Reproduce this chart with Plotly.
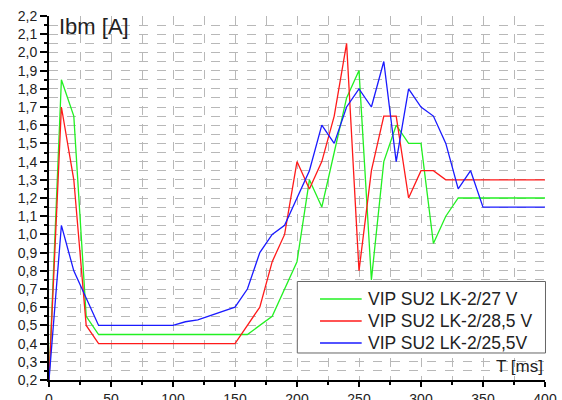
import plotly.graph_objects as go

t_green = [0, 10, 20, 30, 40, 160, 180, 200, 210, 220, 230, 240, 250, 260, 270, 280, 290, 300, 310, 320, 330, 400]
i_green = [0.2, 1.85, 1.65, 0.55, 0.45, 0.45, 0.55, 0.85, 1.3, 1.15, 1.45, 1.75, 1.9, 0.75, 1.4, 1.6, 1.5, 1.5, 0.95, 1.1, 1.2, 1.2]

t_red = [0, 10, 20, 30, 40, 150, 170, 180, 190, 200, 210, 220, 230, 240, 250, 260, 270, 280, 290, 300, 310, 320, 400]
i_red = [0.2, 1.7, 1.3, 0.5, 0.4, 0.4, 0.6, 0.85, 1.0, 1.4, 1.25, 1.4, 1.65, 2.05, 0.8, 1.35, 1.65, 1.65, 1.2, 1.35, 1.35, 1.3, 1.3]

t_blue = [0, 10, 20, 40, 100, 110, 120, 150, 160, 170, 180, 190, 200, 210, 220, 230, 240, 250, 260, 270, 280, 290, 300, 310, 320, 330, 340, 350, 400]
i_blue = [0.2, 1.05, 0.8, 0.5, 0.5, 0.52, 0.53, 0.6, 0.7, 0.9, 1.0, 1.05, 1.2, 1.35, 1.6, 1.5, 1.7, 1.8, 1.7, 1.95, 1.4, 1.8, 1.7, 1.65, 1.5, 1.25, 1.35, 1.15, 1.15]

names = ["VIP SU2 LK-2/27 V", "VIP SU2 LK-2/28,5 V", "VIP SU2 LK-2/25,5V"]
colors = ["#22f022", "#ff1a1a", "#1a1aff"]

font = "Arial, Liberation Sans, sans-serif"
fig = go.Figure()
for x, y, n, c in [(t_green, i_green, names[0], colors[0]),
                   (t_red, i_red, names[1], colors[1]),
                   (t_blue, i_blue, names[2], colors[2])]:
    fig.add_trace(go.Scatter(x=x, y=y, mode="lines", name=n, showlegend=False,
                             line=dict(color=c, width=1.3)))

# legend drawn in paper coordinates
shapes = [dict(type="rect", xref="paper", yref="paper", x0=0.5006, x1=1.001,
               y0=0.0742, y1=0.2706, fillcolor="white",
               line=dict(color="#666", width=1), layer="above")]
annotations = []
row_y = [0.2225, 0.1621, 0.1016]
for n, c, ry in zip(names, colors, row_y):
    shapes.append(dict(type="line", xref="paper", yref="paper", x0=0.5464, x1=0.6304,
                       y0=ry, y1=ry, line=dict(color=c, width=1.3), layer="above"))
    annotations.append(dict(text=n, xref="paper", yref="paper", x=0.6391, y=ry,
                            xanchor="left", yanchor="middle", showarrow=False,
                            font=dict(size=17.5, color="#222")))

annotations += [
    dict(text="Ibm [A]", xref="paper", yref="paper", x=0.016, y=0.97,
         xanchor="left", yanchor="middle", showarrow=False,
         font=dict(size=22, color="#222")),
    dict(text="T [ms]", xref="paper", yref="paper", x=1.0, y=0.0365,
         xanchor="right", yanchor="middle", showarrow=False,
         font=dict(size=17, color="#222")),
]

grid = dict(gridcolor="#b8b8b8", griddash="dash", gridwidth=1)
fig.update_layout(
    width=562, height=400,
    margin=dict(l=49, r=17, t=16, b=20),
    paper_bgcolor="white", plot_bgcolor="white",
    separators=", ",
    font=dict(family=font, size=14, color="#222"),
    showlegend=False,
    xaxis=dict(range=[0, 400], dtick=50, tick0=0, showline=True, linecolor="black",
               linewidth=2, ticks="outside", ticklen=5, tickwidth=1.5, tickcolor="black",
               showgrid=True, zeroline=False, automargin=False,
               minor=dict(dtick=25, tick0=0, ticks="outside", ticklen=3, tickcolor="black",
                          showgrid=True, **grid),
               tickfont=dict(size=14), **grid),
    yaxis=dict(range=[0.2, 2.2], dtick=0.1, tick0=0.2, tickformat=".1f", showline=True,
               linecolor="black", linewidth=2, ticks="outside", ticklen=7, tickwidth=1.5,
               tickcolor="black", showgrid=True, zeroline=False, automargin=False,
               minor=dict(dtick=0.05, tick0=0.2, ticks="outside", ticklen=3, tickcolor="black",
                          showgrid=True, **grid),
               tickfont=dict(size=14), **grid),
    shapes=shapes,
    annotations=annotations,
)
fig.write_html("out.html")
